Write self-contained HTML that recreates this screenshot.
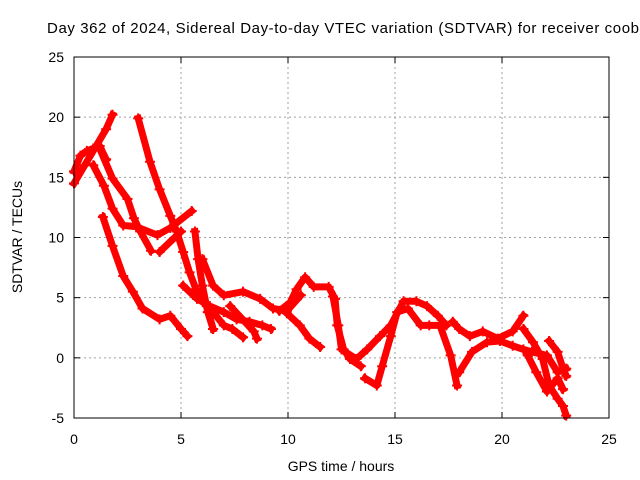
<!DOCTYPE html>
<html><head><meta charset="utf-8"><style>
body{margin:0;background:#fff;}
svg{display:block;font-family:"Liberation Sans",sans-serif;}
</style></head><body>
<svg id="chart" width="640" height="480">
<rect width="640" height="480" fill="#fff"/>
<text x="47" y="33" font-size="15" textLength="592" lengthAdjust="spacing" fill="#000">Day 362 of 2024, Sidereal Day-to-day VTEC variation (SDTVAR) for receiver coob</text>
<g id="grid"></g>
<g id="ticks"></g>
<g id="series"></g>
<rect x="74" y="57" width="535" height="361" fill="none" stroke="#000" stroke-width="1"/>
<text x="341" y="471" font-size="14" text-anchor="middle">GPS time / hours</text>
<text transform="translate(22,237) rotate(-90)" font-size="14" text-anchor="middle">SDTVAR / TECUs</text>
</svg>
<script>
const xTicks=[0,5,10,15,20,25];
const yTicks=[-5,0,5,10,15,20,25];
const trackA_t=[0,0.5,1,1.5,1.8];
const trackA_v=[14.5,16,17.5,19,20.2];
const trackB_t=[0,0.3,0.6,0.9,1.2,1.5];
const trackB_v=[15.5,16.8,17.2,17.4,17.6,16.5];
const trackC_t=[0.9,1.4,1.8,2.3,2.9,3.9,4.5,5.5];
const trackC_v=[16,14.3,12.4,11,10.9,10.2,10.8,12.2];
const trackD_t=[1.2,1.8,2.5,2.8,3.1,3.6];
const trackD_v=[17.4,14.9,13.2,11.6,10.5,8.9];
const trackE_t=[4,5];
const trackE_v=[8.8,10.5];
const trackF_t=[3,3.55,4,4.5,4.8,5.1,5.4,5.7,6.2,6.5];
const trackF_v=[19.9,16.3,14,11.8,10.5,8.8,7.1,5.7,4.3,2.4];
const trackG_t=[1.35,1.8,2.3,2.75,3.2,4,4.5,5,5.3];
const trackG_v=[11.7,9.3,6.8,5.5,4.1,3.2,3.5,2.4,1.8];
const trackH_t=[5.65,5.8,6,6.25,6.5];
const trackH_v=[10.5,8.2,6,3.8,2.4];
const trackI_t=[6,6.5,7,7.9,8.7,9.3,9.95,10.6];
const trackI_v=[8.2,6,5.2,5.5,4.9,4.1,3.9,5.2];
const trackJ_t=[5.1,5.75,6.35,7,7.6,8.2,8.8,9.2];
const trackJ_v=[6,4.9,4.3,3.8,3.2,3,2.7,2.4];
const trackK_t=[6.5,7,7.4,7.9];
const trackK_v=[3.8,2.7,2.4,1.7];
const trackL_t=[7.3,8.4,8.55];
const trackL_v=[4.3,2.2,1.6];
const trackM_t=[9.6,10.1,10.4,10.8,11.2,11.9,12.2,12.3,12.6,12.9,13.4];
const trackM_v=[3.9,4.6,5.7,6.7,5.9,5.9,4.9,2.7,0.7,-0.1,-0.7];
const trackN_t=[9.95,10.55,11,11.5];
const trackN_v=[3.7,2.7,1.6,0.9];
const trackO_t=[12.1,12.35,12.5,13.2,13.7,14.3,14.8,15.4,16,16.5,17,17.4];
const trackO_v=[5.1,2.7,0.7,-0.1,0.7,1.8,2.7,4.7,4.7,4.3,3.5,2.7];
const trackP_t=[13.6,14.15,14.4,14.8,15.1,15.6,16.2,16.6,17.1,17.6,17.9];
const trackP_v=[-1.7,-2.3,-0.7,1.8,3.8,4.1,2.7,2.7,2.7,0.2,-2.3];
const trackQ_t=[17.7,18,18.5,19.1,19.8,20.5,21];
const trackQ_v=[3,2.4,1.8,2.2,1.6,2.2,3.5];
const trackR_t=[18,18.6,19.3,19.9,20.5,21,21.4,22.1,22.6,23];
const trackR_v=[-1.2,0.5,1.3,1.4,1,0.7,0.5,0.2,-1.2,-0.9];
const trackS_t=[21,21.45,21.9,22.2,22.6,22.85,23];
const trackS_v=[2.4,1.3,-0.1,-2.3,-3.4,-4,-4.8];
const trackT_t=[22.2,22.6,22.85,23];
const trackT_v=[1.4,0.5,-0.9,-1.5];
const trackU_t=[21.2,21.6,22.1,22.6,22.85];
const trackU_v=[0.2,-1.2,-2.8,-1.7,-2.6];
const tracks=[[trackA_t,trackA_v],[trackB_t,trackB_v],[trackC_t,trackC_v],[trackD_t,trackD_v],[trackE_t,trackE_v],[trackF_t,trackF_v],[trackG_t,trackG_v],[trackH_t,trackH_v],[trackI_t,trackI_v],[trackJ_t,trackJ_v],[trackK_t,trackK_v],[trackL_t,trackL_v],[trackM_t,trackM_v],[trackN_t,trackN_v],[trackO_t,trackO_v],[trackP_t,trackP_v],[trackQ_t,trackQ_v],[trackR_t,trackR_v],[trackS_t,trackS_v],[trackT_t,trackT_v],[trackU_t,trackU_v]];
const X0=74,X1=609,Y0=418,Y1=57;
function xs(t){return X0+(t-0)/(25-0)*(X1-X0);}
function ys(v){return Y0-(v+5)/(25+5)*(Y0-Y1);}
const NS='http://www.w3.org/2000/svg';
function mk(tag,attrs,parent){const e=document.createElementNS(NS,tag);for(const k in attrs)e.setAttribute(k,attrs[k]);parent.appendChild(e);return e;}
const grid=document.getElementById('grid'),ticks=document.getElementById('ticks'),series=document.getElementById('series');
xTicks.forEach(t=>{const x=xs(t);
 if(t>0&&t<25){const g=mk('line',{x1:x,y1:Y1,x2:x,y2:Y0,stroke:'#a0a0a0','stroke-dasharray':'2,3'},grid);
 
 }
 mk('line',{x1:x,y1:Y0,x2:x,y2:Y0-6,stroke:'#000'},ticks);
 mk('line',{x1:x,y1:Y1,x2:x,y2:Y1+6,stroke:'#000'},ticks);
 const l=mk('text',{x:x,y:Y0+26,'font-size':'14','text-anchor':'middle'},ticks);l.textContent=t;
 
 
});
yTicks.forEach(v=>{const y=ys(v);
 if(v>-5&&v<25){const g=mk('line',{x1:X0,y1:y,x2:X1,y2:y,stroke:'#a0a0a0','stroke-dasharray':'2,3'},grid);
 
 }
 mk('line',{x1:X0,y1:y,x2:X0+6,y2:y,stroke:'#000'},ticks);
 mk('line',{x1:X1,y1:y,x2:X1-6,y2:y,stroke:'#000'},ticks);
 const l=mk('text',{x:X0-10,y:y+5,'font-size':'14','text-anchor':'end'},ticks);l.textContent=v;
 
 
});
tracks.forEach((tr,i)=>{const [T,V]=tr;
 const pts=T.map((t,j)=>xs(t)+','+ys(V[j])).join(' ');
 const p=mk('polyline',{points:pts,fill:'none',stroke:'#ff0000','stroke-width':'7','stroke-linejoin':'round','stroke-linecap':'square'},series);
 
 
 T.forEach((t,j)=>{const x=xs(t),y=ys(V[j]);
  const m=mk('path',{d:`M${x-5},${y}H${x+5}M${x},${y-5}V${y+5}`,stroke:'#ff0000','stroke-width':'2'},series);
  
  
 });
});
</script>
</body></html>
